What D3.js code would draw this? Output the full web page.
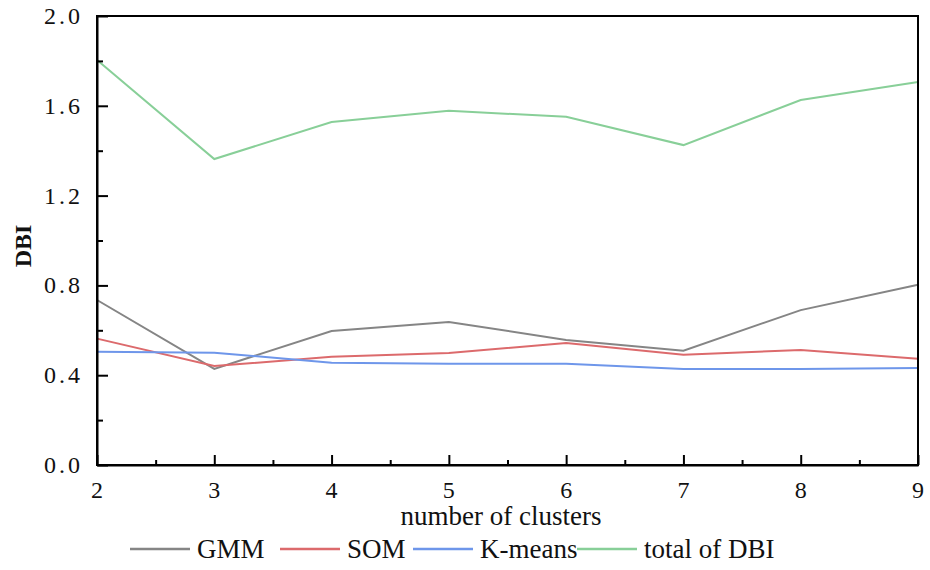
<!DOCTYPE html>
<html><head><meta charset="utf-8">
<script src="https://cdn.jsdelivr.net/npm/d3@7"></script>
</head><body style="margin:0"><svg id="c" width="930" height="570"></svg>
<script>
const clusters = [2, 3, 4, 5, 6, 7, 8, 9];
const gmm = [0.735, 0.428, 0.597, 0.637, 0.557, 0.509, 0.690, 0.803];
const som = [0.563, 0.441, 0.482, 0.499, 0.543, 0.491, 0.512, 0.473];
const kmeans = [0.505, 0.500, 0.456, 0.451, 0.451, 0.428, 0.428, 0.432];
const totalDBI = [1.804, 1.363, 1.528, 1.578, 1.551, 1.425, 1.626, 1.706];
const seriesNames = ["GMM", "SOM", "K-means", "total of DBI"];
const seriesColors = ["#858585", "#dc6a6c", "#6e96ea", "#88cf98"];
const yTicks = [0, 0.4, 0.8, 1.2, 1.6, 2.0];

const FONT = "'Liberation Serif'";
const svg = d3.select("#c");
const L = 97, R = 918, T = 16, B = 465;
const x = d3.scaleLinear().domain([2, 9]).range([L, R]);
const y = d3.scaleLinear().domain([0, 2]).range([B, T]);

function addText(parent, t, px, py, size, bold) {
  return parent.append("text").attr("x", px).attr("y", py)
    .style("font-family", FONT).attr("font-size", size)
    .attr("font-weight", bold ? "bold" : null).attr("fill", "#111").text(t);
}

const seriesData = [gmm, som, kmeans, totalDBI];
const line = d3.line().x((d, i) => x(clusters[i])).y(d => y(d));
seriesData.forEach((s, k) => {
  svg.append("path").datum(s).attr("d", line).attr("fill", "none")
    .attr("stroke", seriesColors[k]).attr("stroke-width", 2);
});

// frame
svg.append("rect").attr("x", L).attr("y", T).attr("width", R - L).attr("height", B - T)
  .attr("fill", "none").attr("stroke", "#000").attr("stroke-width", 2);

// y axis (ticks via axis, labels as own texts)
const yAx = svg.append("g").attr("transform", `translate(${L},0)`)
  .call(d3.axisLeft(y).tickValues(yTicks).tickFormat("").tickSizeInner(-11).tickSizeOuter(0));
yAx.select(".domain").attr("stroke-width", 2);
yAx.selectAll(".tick line").attr("stroke-width", 2);
yAx.selectAll(".tick text").remove();
svg.append("g").attr("transform", `translate(${L},0)`)
  .call(d3.axisLeft(y).tickValues(d3.range(0.2, 2, 0.4)).tickFormat("").tickSizeInner(-6).tickSizeOuter(0))
  .call(g => { g.select(".domain").remove(); g.selectAll("line").attr("stroke-width", 2); g.selectAll("text").remove(); });
yTicks.forEach(v => {
  addText(svg, d3.format(".1f")(v), L - 14, y(v) + 8, 24).attr("text-anchor", "end").attr("letter-spacing", 3);
});

// x axis
const xAx = svg.append("g").attr("transform", `translate(0,${B})`)
  .call(d3.axisBottom(x).tickValues(clusters).tickFormat("").tickSizeInner(-10).tickSizeOuter(0));
xAx.select(".domain").attr("stroke-width", 2);
xAx.selectAll(".tick line").attr("stroke-width", 2);
xAx.selectAll(".tick text").remove();
svg.append("g").attr("transform", `translate(0,${B})`)
  .call(d3.axisBottom(x).tickValues(d3.range(2.5, 9, 1)).tickFormat("").tickSizeInner(-5).tickSizeOuter(0))
  .call(g => { g.select(".domain").remove(); g.selectAll("line").attr("stroke-width", 2); g.selectAll("text").remove(); });
clusters.forEach(v => {
  addText(svg, String(v), x(v), 498, 24).attr("text-anchor", "middle");
});

// axis titles
addText(svg, "number of clusters", 501, 525, 27).attr("text-anchor", "middle");
addText(svg, "DBI", 0, 0, 24, true).attr("x", null).attr("y", null)
  .attr("transform", "translate(31,246) rotate(-90)").attr("text-anchor", "middle");

// legend
const legX = [130, 280, 413, 577];
seriesNames.forEach((n, k) => {
  svg.append("line").attr("x1", legX[k]).attr("x2", legX[k] + 60).attr("y1", 549).attr("y2", 549)
    .attr("stroke", seriesColors[k]).attr("stroke-width", 2.5);
  addText(svg, n, legX[k] + 67, 558, 27);
});
</script></body></html>
